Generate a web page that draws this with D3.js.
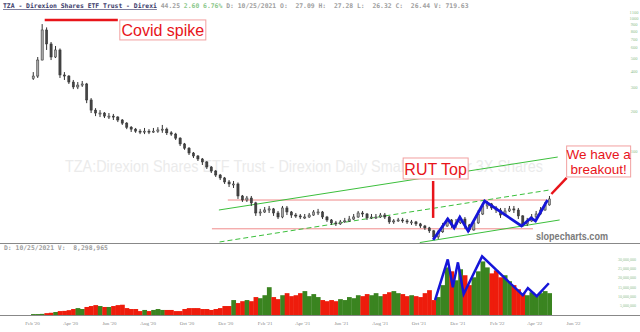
<!DOCTYPE html>
<html lang="en">
<head>
<meta charset="UTF-8">
<script src="https://d3js.org/d3.v7.min.js"></script>
<title>TZA</title>
<style>
  body { margin: 0; background: #fff; }
  svg { display: block; }
</style>
</head>
<body>
<div id="chart"></div>
<script>
const width = 640, height = 332;

// weekly bars, first week starts Mon Feb 3 2020
const firstWeek = "2020-02-03";
const firstOpen = 350;
const closes = [366,483,813,638,509,575,373,366,330,303,
  313,319,242,203,193,193,183,183,180,171,
  162,151,146,141,139,141,139,141,144,146,
  137,134,125,113,105,96.6,91.7,87.1,82.7,75.8,
  70.7,66.0,62.7,58.5,56.5,56.5,45.9,42.8,44.3,40.7,
  34.2,34.8,36.0,36.7,34.2,31.9,37.3,34.8,33.0,32.5,
  31.9,31.9,33.0,34.8,34.8,31.9,30.3,28.8,28.3,29.3,
  29.8,30.8,31.9,34.2,33.6,31.4,31.9,31.9,33.0,31.9,
  29.3,29.8,30.3,29.8,29.3,29.3,28.3,27.3,26.4,25.1,
  22.6,24.7,27.3,30.3,27.8,28.8,30.8,27.8,25.5,28.8,
  33.6,38.6,40.0,37.3,36.0,33.0,35.4,36.7,36.0,32.5,
  28.3,29.8,31.9,33.6,36.0,39.3,43.6];
const highs = [392,509,900,850,660,616,590,392,372,342,
  330,336,325,250,210,203,196,193,190,183,
  174,165,154,149,146,149,146,149,151,157,
  150,141,137,127,115,107,98.3,93.3,88.6,84.1,
  77.1,72.0,67.2,63.8,60.5,59.5,58,46.7,45.9,45.9,
  41.5,36.7,37.9,38.6,37.3,35.4,38.6,38.6,35.4,34.2,
  33.6,33.6,34.2,36.0,36.7,35.4,32.5,30.8,29.8,30.3,
  31.4,32.5,33.6,35.4,35.4,34.2,33.6,33.6,34.2,34.2,
  32.5,30.8,31.4,31.4,30.8,30.3,29.8,28.8,27.8,26.9,
  25.5,25.5,28.8,31.4,30.8,30.8,32.5,31.9,28.3,30.8,
  36.0,40.7,42.1,40.7,38.6,37.3,37.3,38.6,38.6,37.3,
  33.0,31.4,33.6,35.4,37.9,41.4,45.9];
const lows = [342,354,480,575,483,500,354,342,319,292,
  292,303,229,193,183,180,177,174,171,165,
  157,146,139,137,134,134,134,137,137,137,
  132,130,121,109,102,93.3,88.6,84.1,78.5,73.2,
  68.3,63.8,60.5,56.5,53.6,52.7,43.6,41.4,41.4,38.6,
  32.5,32.5,34.2,34.2,32.5,30.8,31.2,33.0,31.4,31.4,
  30.8,30.8,31.4,32.5,33.0,30.8,29.3,27.8,27.3,27.8,
  28.8,29.3,30.3,31.4,31.9,30.3,30.8,30.8,31.4,30.8,
  28.3,28.3,29.3,28.8,28.3,27.8,27.3,26.4,25.5,24.2,
  21.5,21.8,24.2,26.9,26.4,26.4,28.3,26.0,24.7,25.1,
  28.3,33.0,36.7,36.0,34.2,31.4,32.5,34.8,34.2,30.8,
  26.9,27.3,29.3,31.4,33.0,35.5,38.8];
// weekly volume, millions of shares
const volumes = [0.5,0.5,0.6,1.0,1.2,1.6,2.1,2.2,2.6,3.2,
  3.7,3.2,4.3,4.8,5.3,4.8,4.3,4.3,4.8,5.3,
  5.5,3.7,3.2,3.2,2.1,2.7,2.1,2.7,3.2,2.7,
  2.7,2.7,2.1,2.1,3.2,3.7,3.7,3.7,3.2,3.2,
  2.7,3.2,3.7,4.8,4.8,8.0,6.4,7.4,8.0,7.4,
  9.6,9.0,10.6,14.9,9.6,8.5,10.6,11.7,10.1,10.6,
  11.7,12.8,10.1,11.2,9.6,8.0,7.4,8.0,7.4,8.5,
  8.0,9.6,9.0,10.6,10.1,11.2,10.6,11.7,10.1,11.2,
  12.2,12.8,11.7,11.2,10.1,10.6,10.1,9.6,11.7,13.3,
  8.0,9.6,16.0,25.5,23.4,18.6,24.5,21.3,16.0,20.2,
  23.4,28.7,25.5,22.3,23.9,20.2,21.3,18.1,16.0,13.8,
  11.7,10.6,12.2,10.6,11.7,12.8,11.7];

const priceTicks = [1100, 1000, 900, 800, 700, 600, 500, 400, 300, 200, 100];
const volumeTicks = [5, 10, 15, 20, 25, 30];
const monthTicks = ["2020-02","2020-04","2020-06","2020-08","2020-10","2020-12",
  "2021-02","2021-04","2021-06","2021-08","2021-10","2021-12",
  "2022-02","2022-04","2022-06"];

// drawn lines: [date, price]
const resistance = [["2020-12-05", 42.8], ["2022-04-22", 42.8]];
const support = [["2020-11-10", 26.0], ["2022-03-30", 26.0]];
const channelTop = [["2020-11-21", 36.0], ["2022-05-08", 90.1]];
const channelMid = [["2020-11-22", 20.7], ["2022-04-25", 50.9]];
const channelLow = [["2021-10-03", 20.5], ["2022-05-11", 30.3]];
const priceZigzag = [["2021-10-24", 21.5], ["2021-11-16", 30.8], ["2021-11-26", 26.4],
  ["2021-12-05", 31.9], ["2021-12-18", 25.1], ["2022-01-13", 42.1], ["2022-03-12", 27.3],
  ["2022-03-27", 31.4], ["2022-04-03", 29.8], ["2022-04-22", 42.8]];
// [date, volume in millions]
const volumeZigzag = [["2021-10-27", 8.0], ["2021-11-16", 29.8], ["2021-11-24", 14.9],
  ["2021-12-02", 28.2], ["2021-12-11", 11.2], ["2022-01-09", 31.4], ["2022-03-14", 10.6],
  ["2022-03-22", 14.4], ["2022-04-05", 10.1], ["2022-04-24", 17.0]];
// annotations
const covidLine = [["2020-02-21", 967], ["2020-06-15", 967]];
const rutLine = [["2021-10-24", 59.5], ["2021-10-24", 31.4]];
const breakoutLine = [["2022-04-28", 47.5], ["2022-05-22", 62.7]];

const parse = d3.timeParse("%Y-%m-%d");
const parseMonth = d3.timeParse("%Y-%m");

const bars = closes.map((c, i) => ({
  date: d3.timeDay.offset(parse(firstWeek), 7 * i),
  open: i === 0 ? firstOpen : closes[i - 1],
  close: c,
  high: highs[i],
  low: lows[i],
  volume: volumes[i]
}));

const svg = d3.select("#chart").append("svg")
  .attr("width", width)
  .attr("height", height);

const x = d3.scaleTime()
  .domain([parseMonth("2020-02"), parseMonth("2022-06")])
  .range([32, 573]);
const y = d3.scaleLog()
  .domain([100, 1000])
  .range([151, 18]);
const yVol = d3.scaleLinear()
  .domain([0, 30])
  .range([315, 259]);

const pt = d => [x(parse(d[0])), y(d[1])];
const ptVol = d => [x(parse(d[0])), yVol(d[1])];

svg.append("clipPath").attr("id", "mainClip")
  .append("rect").attr("x", 0).attr("y", 10).attr("width", 600).attr("height", 233);
svg.append("clipPath").attr("id", "volClip")
  .append("rect").attr("x", 0).attr("y", 244).attr("width", 600).attr("height", 71);

// header
const mono = "'DejaVu Sans Mono', 'Liberation Mono', monospace";
const header = svg.append("text")
  .attr("x", 3).attr("y", 8)
  .attr("font-family", mono).attr("font-size", 6.4)
  .attr("font-weight", "bold")
  .style("white-space", "pre");
header.append("tspan").attr("fill", "#3a3a6a").attr("text-decoration", "underline")
  .text("TZA - Direxion Shares ETF Trust - Direxi");
header.append("tspan").attr("fill", "#a0a0a0").text(" 44.25 ");
header.append("tspan").attr("fill", "#8cc88c").text("2.60 6.76% ");
header.append("tspan").attr("fill", "#a0a0a0")
  .text("D: 10/25/2021 O:  27.09 H:  27.28 L:  26.32 C:  26.44 V: 719.63");

// watermark
svg.append("text")
  .attr("x", 65).attr("y", 172)
  .attr("font-family", "'Liberation Sans', Arial, sans-serif")
  .attr("font-size", 16.5)
  .attr("fill", "#ebebeb")
  .attr("textLength", 478)
  .attr("lengthAdjust", "spacingAndGlyphs")
  .text("TZA:Direxion Shares ETF Trust - Direxion Daily Small Cap Bear 3X Shares");

// panel lines
svg.append("line").attr("x1", 0).attr("x2", width).attr("y1", 243.5).attr("y2", 243.5)
  .attr("stroke", "#888").attr("stroke-width", 1);
svg.append("line").attr("x1", 0).attr("x2", width).attr("y1", 315.5).attr("y2", 315.5)
  .attr("stroke", "#888").attr("stroke-width", 1);

// price axis
const priceAxis = svg.append("g")
  .attr("transform", "translate(634,0)")
  .call(d3.axisRight(y).tickValues(priceTicks).tickFormat(d3.format("d")).tickSize(0).tickPadding(0));
priceAxis.select(".domain").remove();
priceAxis.selectAll("text").attr("font-size", 4.5).attr("fill", "#8cc08c")
  .attr("text-anchor", "middle")
  .attr("font-family", "'Liberation Serif', serif");

// volume axis
const volAxis = svg.append("g")
  .attr("transform", "translate(636,0)")
  .call(d3.axisLeft(yVol).tickValues(volumeTicks).tickFormat(v => d3.format(",")(v * 1e6)).tickSize(0).tickPadding(0));
volAxis.select(".domain").remove();
volAxis.selectAll("text").attr("font-size", 4).attr("fill", "#8cc08c")
  .attr("font-family", "'Liberation Serif', serif");

// time axis
const timeAxis = svg.append("g")
  .attr("transform", "translate(0,321)")
  .call(d3.axisBottom(x).tickValues(monthTicks.map(parseMonth))
    .tickFormat(d3.timeFormat("%b '%y")).tickSize(0).tickPadding(0));
timeAxis.select(".domain").remove();
timeAxis.selectAll("text").attr("font-size", 5).attr("fill", "#888")
  .attr("font-family", "'Liberation Serif', serif");

// volume header
svg.append("text")
  .attr("x", 4).attr("y", 250)
  .attr("font-family", mono).attr("font-size", 6.4).attr("font-weight", "bold")
  .attr("fill", "#a0a0a0")
  .style("white-space", "pre")
  .text("D: 10/25/2021 V:  8,298,965");

// volume bars
const barW = x(bars[1].date) - x(bars[0].date);
svg.append("g").attr("clip-path", "url(#volClip)")
  .selectAll("rect")
  .data(bars)
  .join("rect")
  .attr("x", d => x(d.date) - barW / 2)
  .attr("width", barW + 0.3)
  .attr("y", d => yVol(d.volume))
  .attr("height", d => yVol(0) - yVol(d.volume))
  .attr("fill", d => d.close >= d.open ? "#3a8420" : "#ee1c0c");

svg.append("path")
  .attr("d", d3.line()(volumeZigzag.map(ptVol)))
  .attr("fill", "none").attr("stroke", "#1515d8").attr("stroke-width", 2.5)
  .attr("stroke-linejoin", "miter");

// price panel
const main = svg.append("g").attr("clip-path", "url(#mainClip)");

const hline = (pts, color, dash) => main.append("path")
  .attr("d", d3.line()(pts.map(pt)))
  .attr("fill", "none").attr("stroke", color).attr("stroke-width", 1)
  .attr("stroke-dasharray", dash || null);

hline(resistance, "#f08a8a");
hline(support, "#f08a8a");
hline(channelTop, "#3cbf3c");
hline(channelMid, "#3cbf3c", "5,3");
hline(channelLow, "#3cbf3c");

// candles
main.selectAll("line.wick")
  .data(bars)
  .join("line")
  .attr("class", "wick")
  .attr("x1", d => x(d.date)).attr("x2", d => x(d.date))
  .attr("y1", d => y(d.high)).attr("y2", d => y(d.low))
  .attr("stroke", "#333").attr("stroke-width", 1);
main.selectAll("rect.body")
  .data(bars)
  .join("rect")
  .attr("class", "body")
  .attr("x", d => x(d.date) - 1.1)
  .attr("width", 2.2)
  .attr("y", d => y(Math.max(d.open, d.close)))
  .attr("height", d => Math.max(1, Math.abs(y(d.open) - y(d.close))))
  .attr("fill", d => d.close >= d.open ? "#a5a5a5" : "#444")
  .attr("stroke", "#333").attr("stroke-width", 0.5);

main.append("path")
  .attr("d", d3.line()(priceZigzag.map(pt)))
  .attr("fill", "none").attr("stroke", "#1515d8").attr("stroke-width", 2.8);

// annotations
const red = "#e8141a";
const note = (lines, x0, y0, w, h, size) => {
  svg.append("rect").attr("x", x0).attr("y", y0).attr("width", w).attr("height", h)
    .attr("fill", "#fff").attr("stroke", "#f2a0a0").attr("stroke-width", 1);
  lines.forEach((t, i) => svg.append("text")
    .attr("x", x0 + w / 2).attr("y", y0 + size * 0.95 + i * size * 1.1 + (h - size * 1.1 * lines.length) / 2)
    .attr("text-anchor", "middle")
    .attr("font-family", "'Liberation Sans', Arial, sans-serif")
    .attr("font-size", size).attr("fill", red)
    .text(t));
};
const redLine = pts => svg.append("path")
  .attr("d", d3.line()(pts))
  .attr("fill", "none").attr("stroke", red).attr("stroke-width", 2.5);

const cv = covidLine.map(pt);
redLine(cv);
note(["Covid spike"], cv[1][0] + 2, cv[0][1], 86, 20, 16);

const rt = rutLine.map(pt);
redLine(rt);
note(["RUT Top"], rt[0][0] - 30, rt[0][1] - 23, 65, 21, 16);

const bk = breakoutLine.map(pt);
redLine(bk);
note(["We have a", "breakout!"], bk[1][0], bk[1][1] - 32, 64, 31, 13.5);

// site label
svg.append("text")
  .attr("x", 536).attr("y", 240)
  .attr("font-family", "'Liberation Sans', Arial, sans-serif")
  .attr("font-size", 11).attr("font-weight", "bold")
  .attr("fill", "#7a7a7a")
  .attr("textLength", 72).attr("lengthAdjust", "spacingAndGlyphs")
  .text("slopecharts.com");
</script>
</body>
</html>
